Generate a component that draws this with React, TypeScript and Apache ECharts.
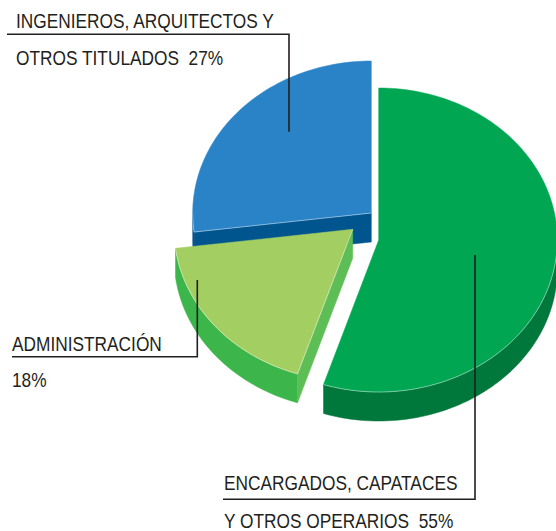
import React, { useEffect, useRef } from "react";
import * as echarts from "echarts";

// ---- data ----
const categories = [
  "INGENIEROS, ARQUITECTOS Y OTROS TITULADOS",
  "ADMINISTRACIÓN",
  "ENCARGADOS, CAPATACES Y OTROS OPERARIOS",
];
const labelFirstLines = ["INGENIEROS, ARQUITECTOS Y", "ADMINISTRACIÓN", "ENCARGADOS, CAPATACES"];
const labelSecondLines = ["OTROS TITULADOS", "", "Y OTROS OPERARIOS"];
const values = [27, 18, 55];

// ---- styles / layout ----
const topColors = ["#2a83c6", "#a2ce62", "#00a652"];
const sideColors = ["#00558f", "#3cb54a", "#00773b"];
const cutColors = ["#00558f", "#5dbe56", "#00773b"];
const START_ANGLE = 90; // degrees, counter-clockwise
const RX = 178.6;
const RY = 152;
const DEPTH = 29;
const sliceCenters: number[][] = [
  [371.3, 213],
  [352.7, 229.3],
  [378.7, 240],
];
const FONT = "'Liberation Sans', Arial, sans-serif";
const FONT_SIZE = 20;
const TEXT_SCALE_X = 0.865;
const TEXT_COLOR = "#231f20";

// label layout: [x, y line1, y line2]
const labelPos = [
  [16, 21, 58.5],
  [12, 343.7, 380.3],
  [224, 483, 520.7],
];
const leaderLines = [
  [[7, 34.3], [289, 34.3], [289, 131.7]],
  [[12, 356.7], [197.3, 356.7], [197.3, 280]],
  [[223, 499.3], [475, 499.3], [475, 255]],
];

export default function App() {
  const ref = useRef<HTMLDivElement>(null);

  useEffect(() => {
    if (!ref.current) return;
    const chart = echarts.init(ref.current, null, { renderer: "svg" });
    const total = values.reduce((a, b) => a + b, 0);

    const renderItem = (params: any, api: any) => {
      const i = params.dataIndex;
      let before = 0;
      for (let j = 0; j < i; j++) before += values[j];
      const v = api.value(0);
      const a0 = START_ANGLE + (before / total) * 360;
      const a1 = a0 + (v / total) * 360;
      const [cx, cy] = sliceCenters[i];
      const pt = (deg: number, dy = 0) => {
        const r = (deg * Math.PI) / 180;
        return [cx + RX * Math.cos(r), cy - RY * Math.sin(r) + dy];
      };
      const arc = (s: number, e: number, dy = 0) => {
        const n = Math.max(2, Math.ceil(Math.abs(e - s) / 1.5));
        const pts: number[][] = [];
        for (let k = 0; k <= n; k++) pts.push(pt(s + ((e - s) * k) / n, dy));
        return pts;
      };
      const children: any[] = [];
      const highlights: number[][][] = [];
      // outer visible side
      for (let m = -1; m <= 2; m++) {
        const s = Math.max(a0, 180 + 360 * m);
        const e = Math.min(a1, 360 + 360 * m);
        if (e > s) {
          const topArc = arc(s, e);
          children.push({
            type: "polygon",
            shape: { points: topArc.concat(arc(s, e, DEPTH).reverse()) },
            style: { fill: sideColors[i], stroke: sideColors[i], lineWidth: 0.5 },
          });
          highlights.push(topArc);
        }
      }
      // cut faces
      const c1 = Math.cos((a1 * Math.PI) / 180);
      if (c1 < -1e-6) {
        children.push({
          type: "polygon",
          shape: { points: [[cx, cy], pt(a1), pt(a1, DEPTH), [cx, cy + DEPTH]] },
          style: { fill: cutColors[i], stroke: cutColors[i], lineWidth: 0.5 },
        });
        highlights.push([[cx, cy], pt(a1)]);
      }
      const c0 = Math.cos((a0 * Math.PI) / 180);
      if (c0 > 1e-6) {
        children.push({
          type: "polygon",
          shape: { points: [[cx, cy], pt(a0), pt(a0, DEPTH), [cx, cy + DEPTH]] },
          style: { fill: cutColors[i], stroke: cutColors[i], lineWidth: 0.5 },
        });
        highlights.push([[cx, cy], pt(a0)]);
      }
      // top face
      children.push({
        type: "polygon",
        shape: { points: [[cx, cy]].concat(arc(a0, a1)) },
        style: { fill: topColors[i], stroke: topColors[i], lineWidth: 0.5 },
      });
      highlights.forEach((h) =>
        children.push({
          type: "polyline",
          shape: { points: h },
          style: { fill: null, stroke: "rgba(255,255,255,0.55)", lineWidth: 0.8 },
        })
      );
      return { type: "group", children };
    };

    const graphics: any[] = [];
    leaderLines.forEach((pts) =>
      graphics.push({
        type: "polyline",
        z: 100,
        shape: { points: pts },
        style: { fill: null, stroke: TEXT_COLOR, lineWidth: 1.6 },
      })
    );
    categories.forEach((_, i) => {
      const [x, y1, y2] = labelPos[i];
      const second = labelSecondLines[i]
        ? labelSecondLines[i] + "  " + values[i] + "%"
        : values[i] + "%";
      [
        [labelFirstLines[i], y1],
        [second, y2],
      ].forEach(([t, y]) =>
        graphics.push({
          type: "text",
          z: 100,
          x,
          y,
          scaleX: TEXT_SCALE_X,
          style: {
            text: t,
            fill: TEXT_COLOR,
            fontFamily: FONT,
            fontSize: FONT_SIZE,
            align: "left",
            verticalAlign: "middle",
          },
        })
      );
    });

    chart.setOption({
      animation: false,
      backgroundColor: "#ffffff",
      series: [
        {
          type: "custom",
          coordinateSystem: "none",
          silent: true,
          renderItem,
          data: values.map((v, i) => ({ name: categories[i], value: [v] })),
        },
      ],
      graphic: graphics,
    });

    return () => chart.dispose();
  }, []);

  return (
    <div
      ref={ref}
      style={{ position: "fixed", left: 0, top: 0, width: 556, height: 531 }}
    />
  );
}
